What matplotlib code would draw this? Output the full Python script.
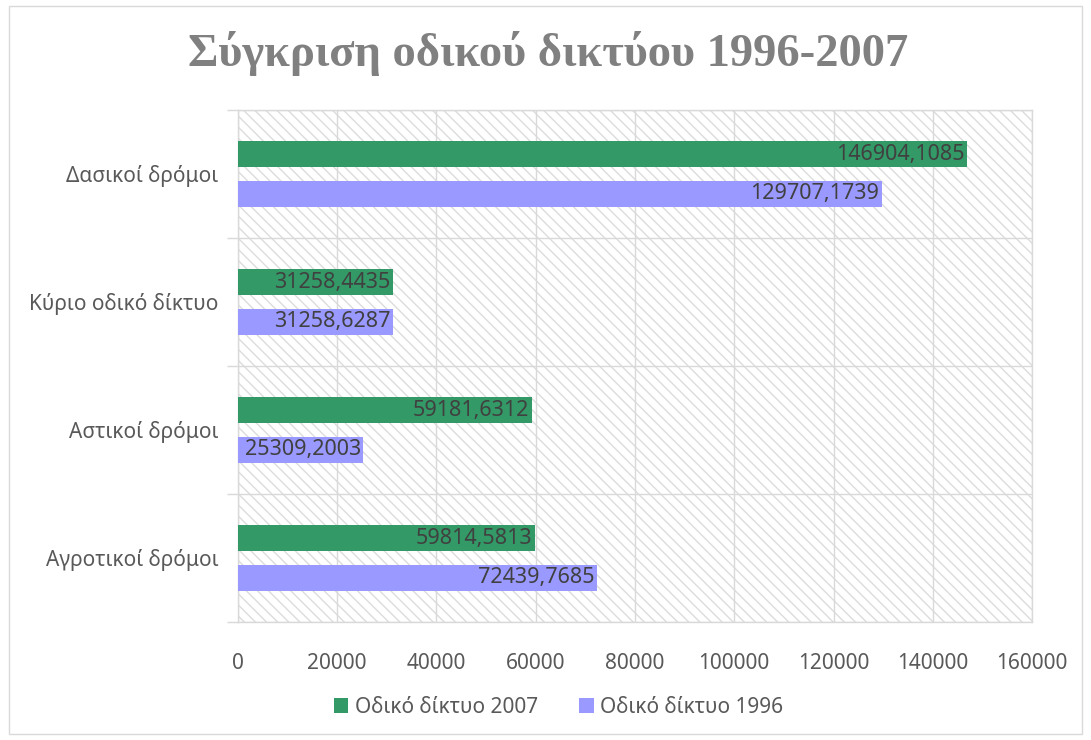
import matplotlib.pyplot as plt
import matplotlib.patches as mpatches
import numpy as np

plt.rcParams['font.family'] = ['Noto Sans', 'DejaVu Sans']
plt.rcParams['hatch.linewidth'] = 1.0

categories = ["Αγροτικοί δρόμοι", "Αστικοί δρόμοι", "Κύριο οδικό δίκτυο", "Δασικοί δρόμοι"]
net_2007 = [59814.5813, 59181.6312, 31258.4435, 146904.1085]
net_1996 = [72439.7685, 25309.2003, 31258.6287, 129707.1739]
xticks = [0, 20000, 40000, 60000, 80000, 100000, 120000, 140000, 160000]

green = '#339966'
purple = '#9999ff'
grid_c = '#d9d9d9'
text_c = '#595959'

fig = plt.figure(figsize=(10.91, 7.40), dpi=100)
fig.patches.append(mpatches.Rectangle((0.008, 0.008), 0.984, 0.984, transform=fig.transFigure,
                                      fill=False, edgecolor=grid_c, linewidth=1))
ax = fig.add_axes([0.218, 0.1595, 0.728, 0.692])

# hatched plot area
ax.add_patch(mpatches.Rectangle((0, 0), 1, 1, transform=ax.transAxes, fill=False,
                                hatch='\\\\\\', edgecolor='#dcdcdc', linewidth=0, zorder=0))

y = np.arange(len(categories))
h = 0.2
off = 0.155
b07 = ax.barh(y + off, net_2007, height=h, color=green, zorder=3, label="Οδικό δίκτυο 2007")
b96 = ax.barh(y - off, net_1996, height=h, color=purple, zorder=3, label="Οδικό δίκτυο 1996")

for bars, vals in ((b07, net_2007), (b96, net_1996)):
    for bar, v in zip(bars, vals):
        s = f"{v:.4f}".replace('.', ',')
        ax.text(v - 500, bar.get_y() + bar.get_height() / 2, s, ha='right', va='center',
                fontsize=15.5, color='#404040', zorder=4)

ax.set_xlim(0, 160000)
ax.set_ylim(-0.5, 3.5)
ax.set_xticks(xticks)
ax.set_xticklabels([str(t) for t in xticks], fontsize=15, color=text_c)
ax.tick_params(axis='x', length=0, pad=22)

ax.set_yticks(np.arange(-0.5, 4, 1))
ax.set_yticklabels([])
ax.set_yticks(y, minor=True)
ax.set_yticklabels(categories, minor=True, fontsize=15, color=text_c)
ax.tick_params(axis='y', which='major', length=8, color=grid_c, width=1)
ax.tick_params(axis='y', which='minor', length=0, pad=14)

ax.grid(True, which='major', color=grid_c, linewidth=1, zorder=1)
ax.set_axisbelow(True)
for sp in ax.spines.values():
    sp.set_color(grid_c)
    sp.set_linewidth(1)

fig.text(0.502, 0.928, "Σύγκριση οδικού δικτύου 1996-2007", ha='center', va='center',
         fontsize=33.5, fontweight='bold', color='#808080', family=['Liberation Serif', 'DejaVu Serif'])

fig.legend(handles=[b07, b96], loc='center', bbox_to_anchor=(0.512, 0.044), ncol=2, frameon=False,
           fontsize=15, handlelength=0.7, handleheight=0.7, handletextpad=0.3, columnspacing=2.0,
           labelcolor=text_c)

plt.savefig("out.png", dpi=100)
